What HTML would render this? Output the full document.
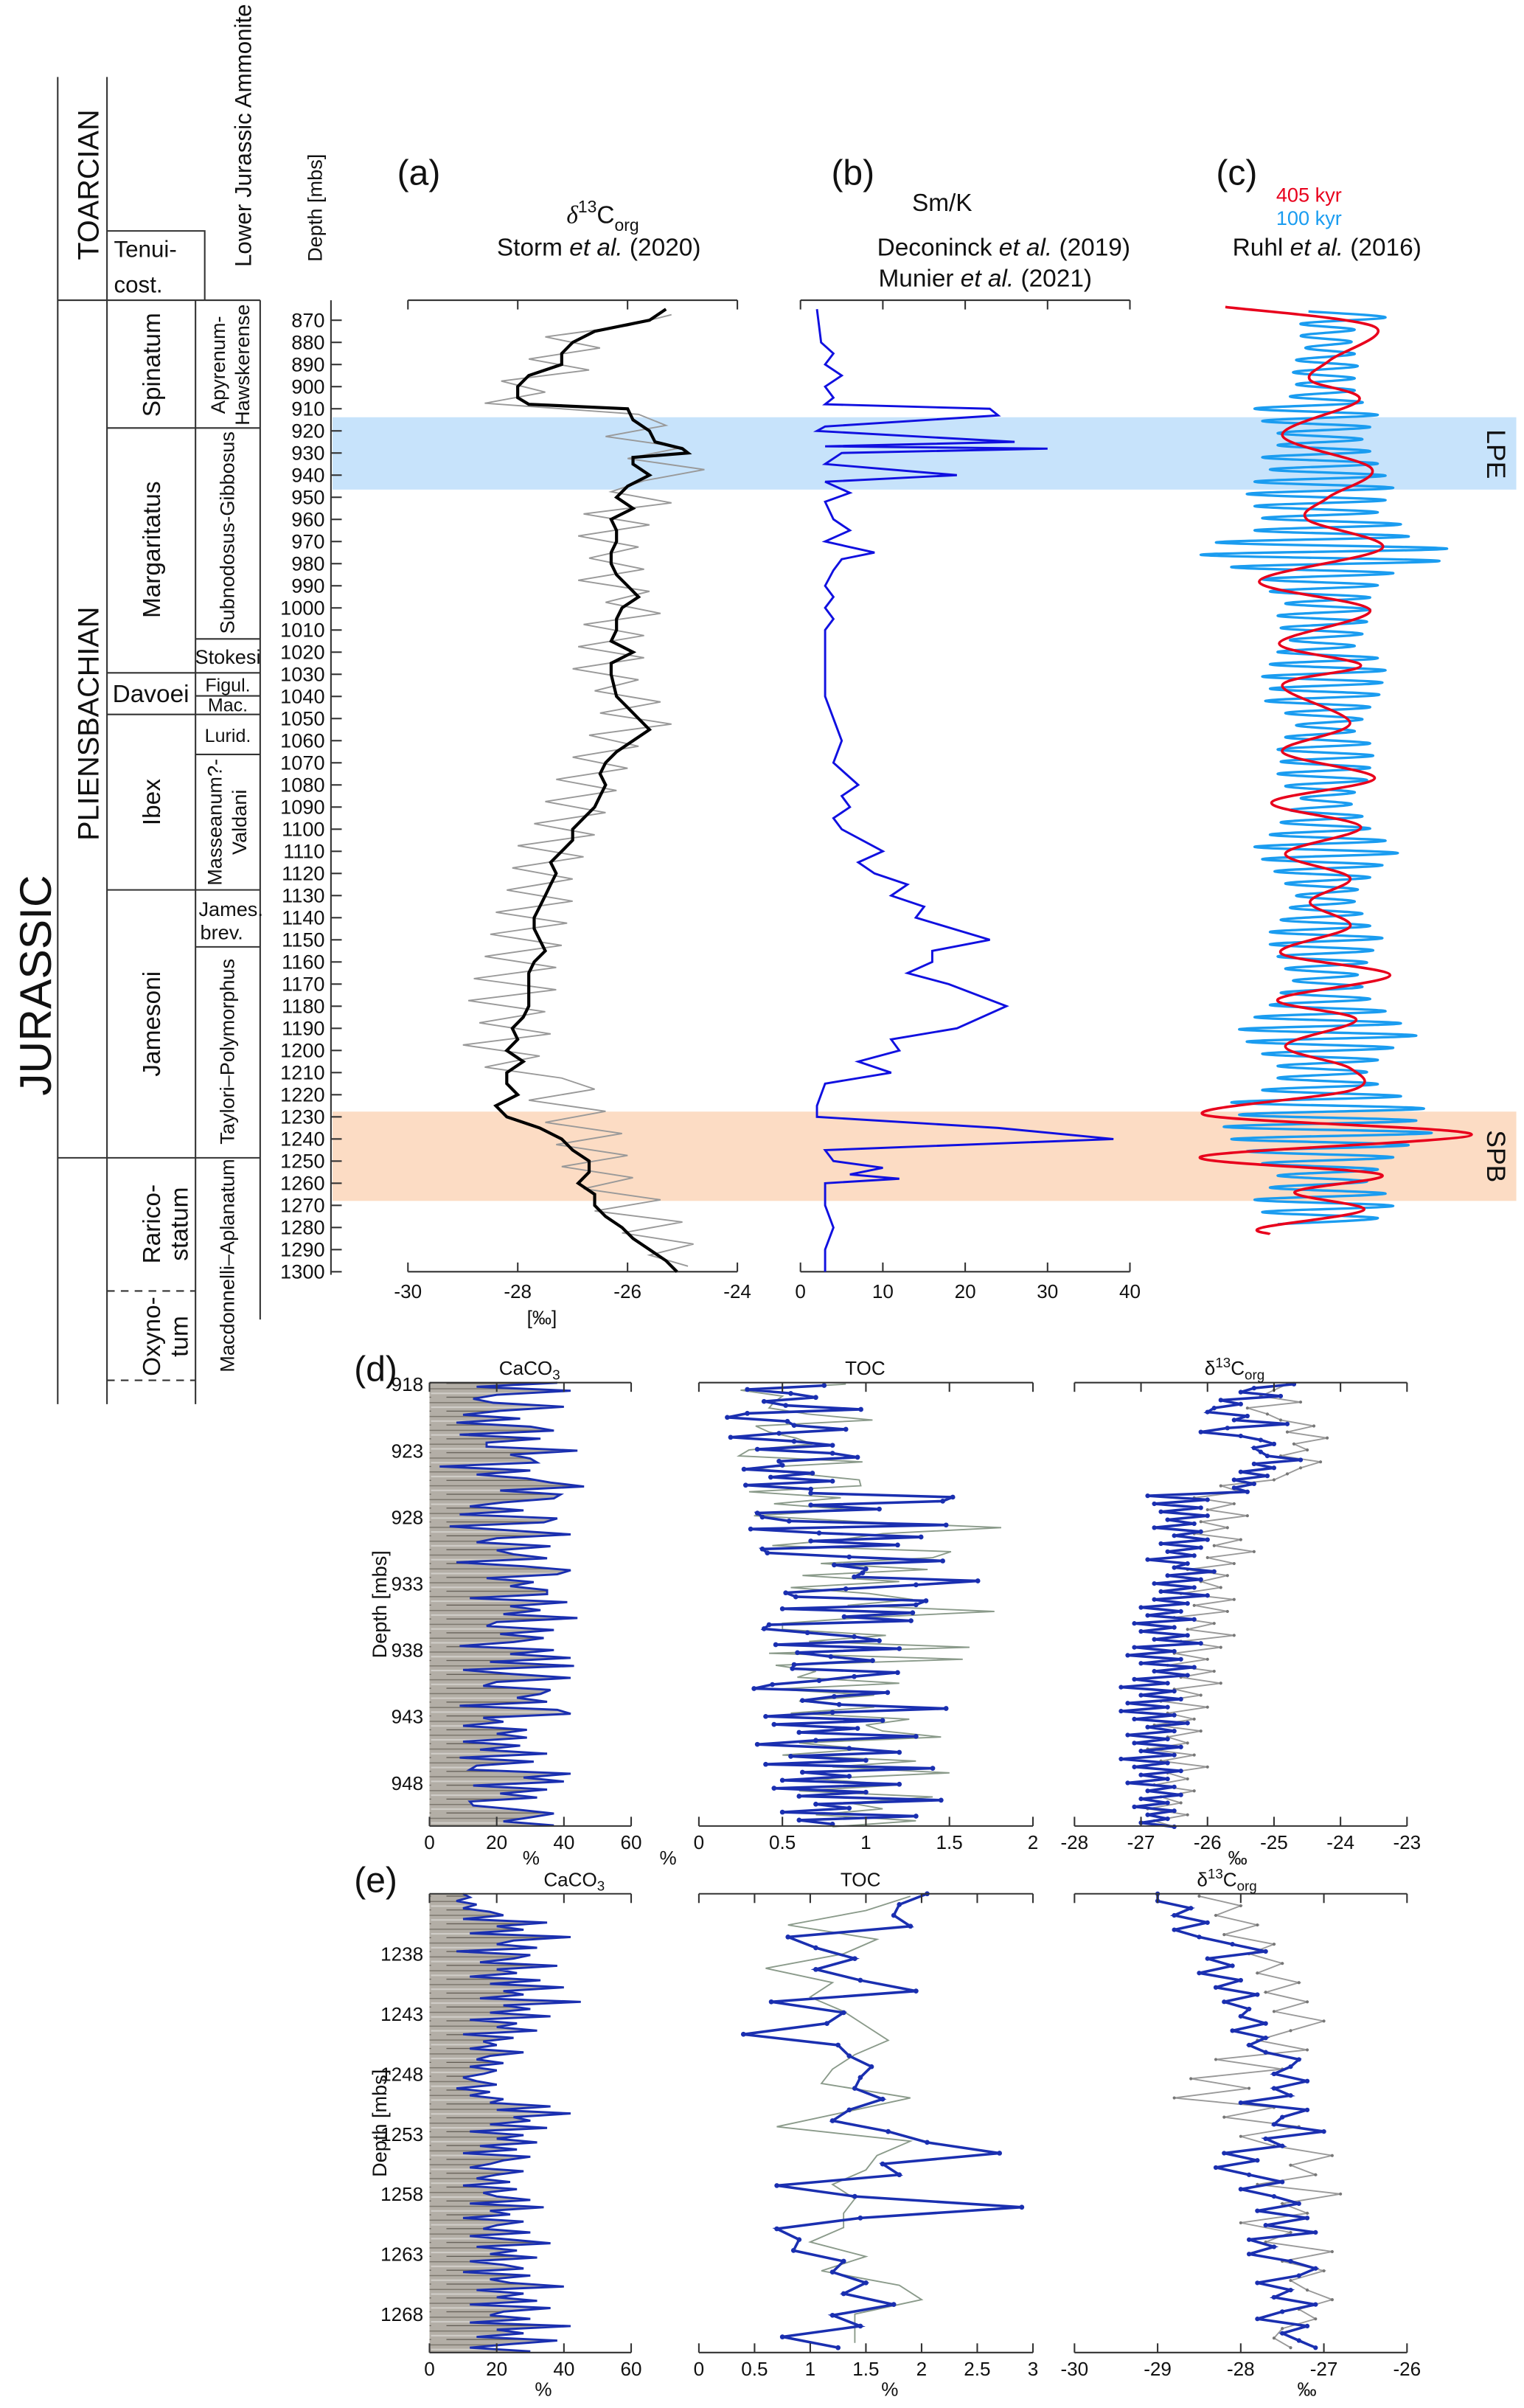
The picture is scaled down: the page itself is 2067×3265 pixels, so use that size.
<!DOCTYPE html>
<html><head><meta charset="utf-8">
<style>
html,body{margin:0;padding:0;background:#fff;}
svg{display:block;}
text{font-family:"Liberation Sans",Arial,sans-serif;fill:#111;}
</style></head>
<body>
<svg id="fig" width="2067" height="3265" viewBox="0 0 990 1564" preserveAspectRatio="none" xmlns="http://www.w3.org/2000/svg">
<defs>
<pattern id="core" width="140" height="9" patternUnits="userSpaceOnUse">
<rect width="140" height="9" fill="#b3aea6"/>
<line x1="0" y1="2" x2="140" y2="2" stroke="#7d786f" stroke-width="0.7"/>
<line x1="0" y1="5" x2="90" y2="5" stroke="#d0cdc8" stroke-width="1"/>
<line x1="10" y1="7.5" x2="140" y2="7.5" stroke="#5f5a52" stroke-width="0.6"/>
</pattern>
</defs>

<g id="strat" stroke="#333" stroke-width="1" fill="none">
<line x1="37.5" y1="50" x2="37.5" y2="912"/>
<line x1="69.5" y1="50" x2="69.5" y2="912"/>
<line x1="127" y1="195" x2="127" y2="912"/>
<line x1="169" y1="195" x2="169" y2="857"/>
<line x1="37.5" y1="195" x2="169" y2="195"/>
<polyline points="69.5,150 133,150 133,195"/>
<line x1="69.5" y1="278" x2="169" y2="278"/>
<line x1="69.5" y1="437" x2="169" y2="437"/>
<line x1="69.5" y1="464" x2="169" y2="464"/>
<line x1="69.5" y1="578" x2="169" y2="578"/>
<line x1="37.5" y1="752" x2="169" y2="752"/>
<line x1="127" y1="415" x2="169" y2="415"/>
<line x1="127" y1="452" x2="169" y2="452"/>
<line x1="127" y1="490" x2="169" y2="490"/>
<line x1="127" y1="615" x2="169" y2="615"/>
<line x1="69.5" y1="838.5" x2="127" y2="838.5" stroke-dasharray="5,4"/>
<line x1="69.5" y1="896.5" x2="127" y2="896.5" stroke-dasharray="5,4"/>
</g>
<g>
<text transform="translate(33,640) rotate(-90)" text-anchor="middle" font-size="29">JURASSIC</text>
<text transform="translate(64,120) rotate(-90)" text-anchor="middle" font-size="19">TOARCIAN</text>
<text transform="translate(64,470) rotate(-90)" text-anchor="middle" font-size="19">PLIENSBACHIAN</text>
<text x="74" y="167" font-size="15">Tenui-</text>
<text x="74" y="190" font-size="15">cost.</text>
<text transform="translate(163,88) rotate(-90)" text-anchor="middle" font-size="15">Lower Jurassic Ammonite</text>
<text transform="translate(104,237) rotate(-90)" text-anchor="middle" font-size="16">Spinatum</text>
<text transform="translate(104,357) rotate(-90)" text-anchor="middle" font-size="16">Margaritatus</text>
<text x="98" y="456" text-anchor="middle" font-size="16">Davoei</text>
<text transform="translate(104,521) rotate(-90)" text-anchor="middle" font-size="16">Ibex</text>
<text transform="translate(104,665) rotate(-90)" text-anchor="middle" font-size="16">Jamesoni</text>
<text transform="translate(104,795) rotate(-90)" text-anchor="middle" font-size="16">Rarico-</text>
<text transform="translate(122,795) rotate(-90)" text-anchor="middle" font-size="16">statum</text>
<text transform="translate(104,868) rotate(-90)" text-anchor="middle" font-size="16">Oxyno-</text>
<text transform="translate(122,868) rotate(-90)" text-anchor="middle" font-size="16">tum</text>
<text transform="translate(146,237) rotate(-90)" text-anchor="middle" font-size="13">Apyrenum-</text>
<text transform="translate(162,237) rotate(-90)" text-anchor="middle" font-size="13">Hawskerense</text>
<text transform="translate(152,346) rotate(-90)" text-anchor="middle" font-size="13">Subnodosus-Gibbosus</text>
<text x="148" y="431" text-anchor="middle" font-size="13">Stokesi</text>
<text x="148" y="449" text-anchor="middle" font-size="12">Figul.</text>
<text x="148" y="462" text-anchor="middle" font-size="12">Mac.</text>
<text x="148" y="482" text-anchor="middle" font-size="12">Lurid.</text>
<text transform="translate(144,534) rotate(-90)" text-anchor="middle" font-size="13">Masseanum?-</text>
<text transform="translate(160,534) rotate(-90)" text-anchor="middle" font-size="13">Valdani</text>
<text x="150" y="595" text-anchor="middle" font-size="13">James.</text>
<text x="144" y="610" text-anchor="middle" font-size="13">brev.</text>
<text transform="translate(152,683) rotate(-90)" text-anchor="middle" font-size="13">Taylori–Polymorphus</text>
<text transform="translate(152,822) rotate(-90)" text-anchor="middle" font-size="13">Macdonnelli–Aplanatum</text>
</g>

<rect x="216" y="271" width="769" height="47" fill="#c7e3fb"/>
<rect x="216" y="722" width="769" height="58" fill="#fcdcc4"/>
<text transform="translate(966,295) rotate(90)" text-anchor="middle" font-size="17">LPE</text>
<text transform="translate(966,751) rotate(90)" text-anchor="middle" font-size="17">SPB</text>

<text transform="translate(209,135) rotate(-90)" text-anchor="middle" font-size="13">Depth [mbs]</text>
<text x="258" y="120" font-size="23">(a)</text>
<text x="368" y="145" font-size="16"><tspan font-style="italic" font-family="Liberation Serif">δ</tspan><tspan dy="-7" font-size="11">13</tspan><tspan dy="7">C</tspan><tspan dy="5" font-size="11">org</tspan></text>
<text x="389" y="166" text-anchor="middle" font-size="16">Storm <tspan font-style="italic">et al.</tspan> (2020)</text>
<text x="540" y="120" font-size="23">(b)</text>
<text x="612" y="137" text-anchor="middle" font-size="16">Sm/K</text>
<text x="652" y="166" text-anchor="middle" font-size="16">Deconinck <tspan font-style="italic">et al.</tspan> (2019)</text>
<text x="640" y="186" text-anchor="middle" font-size="16">Munier <tspan font-style="italic">et al.</tspan> (2021)</text>
<text x="790" y="120" font-size="23">(c)</text>
<text x="829" y="131" font-size="13" style="fill:#e8001c">405 kyr</text>
<text x="829" y="146" font-size="13" style="fill:#1a9cf0">100 kyr</text>
<text x="862" y="166" text-anchor="middle" font-size="16">Ruhl <tspan font-style="italic">et al.</tspan> (2016)</text>

<g id="gtop"></g>
<g id="gbot"></g>
</svg>

<script>
const aSmoothDepth = [865,870,875,880,885,890,895,900,905,908,910,915,920,925,928,930,932,935,940,945,950,955,960,965,970,975,980,985,990,995,1000,1005,1010,1015,1020,1025,1030,1040,1045,1050,1055,1060,1065,1070,1075,1080,1085,1090,1095,1100,1105,1110,1115,1120,1125,1130,1135,1140,1145,1150,1155,1160,1165,1170,1175,1180,1185,1190,1195,1200,1205,1210,1215,1220,1225,1230,1235,1240,1245,1250,1255,1260,1265,1270,1275,1280,1285,1290,1295,1300];
const aSmoothVal = [-25.3,-25.6,-26.6,-27.0,-27.2,-27.2,-27.8,-28.0,-28.0,-27.8,-26.0,-25.9,-25.6,-25.5,-25.0,-24.9,-25.9,-25.9,-25.6,-26.0,-26.2,-25.9,-26.3,-26.2,-26.2,-26.3,-26.3,-26.2,-26.0,-25.8,-26.1,-26.2,-26.2,-26.3,-25.9,-26.3,-26.3,-26.2,-26.0,-25.8,-25.6,-25.9,-26.2,-26.4,-26.5,-26.4,-26.5,-26.6,-26.8,-27.0,-27.0,-27.2,-27.4,-27.3,-27.4,-27.5,-27.6,-27.7,-27.7,-27.6,-27.5,-27.7,-27.8,-27.8,-27.8,-27.8,-27.9,-28.1,-28.0,-28.2,-27.9,-28.2,-28.2,-28.0,-28.4,-28.2,-27.6,-27.2,-27.0,-26.7,-26.7,-26.9,-26.6,-26.6,-26.4,-26.1,-25.9,-25.6,-25.3,-25.1];
const aRawStart = 867.5, aRawStep = 5;
const aRawVal = [-25.2,-26.0,-27.5,-26.5,-27.8,-26.7,-28.3,-27.5,-28.6,-25.8,-25.3,-26.4,-25.0,-26.0,-24.6,-25.7,-26.3,-25.2,-26.8,-25.6,-26.9,-25.8,-26.7,-25.7,-26.9,-25.6,-26.4,-25.4,-26.8,-25.7,-26.9,-25.7,-27.0,-25.8,-26.6,-25.4,-26.5,-25.2,-26.7,-25.8,-27.0,-26.0,-27.3,-26.2,-27.5,-26.4,-27.7,-26.6,-28.0,-26.8,-28.1,-27.0,-28.2,-27.0,-28.4,-27.1,-28.5,-27.2,-28.6,-27.3,-28.8,-27.3,-28.9,-27.5,-28.7,-27.4,-29.0,-27.6,-28.6,-27.2,-26.6,-27.8,-26.4,-27.5,-26.1,-27.3,-26.0,-27.2,-25.9,-26.8,-25.4,-26.6,-25.0,-26.1,-24.8,-25.6,-24.9];
const aTicks = [-30,-28,-26,-24];
const bDepth = [865,880,885,890,895,900,905,908,910,913,918,920,925,927,928,930,935,940,943,948,952,960,965,970,975,978,983,990,995,1000,1005,1010,1020,1040,1050,1060,1070,1080,1085,1090,1095,1100,1110,1115,1120,1125,1130,1135,1140,1150,1155,1160,1165,1170,1180,1190,1195,1200,1205,1210,1215,1225,1230,1235,1240,1245,1250,1253,1256,1258,1260,1265,1270,1280,1290,1300];
const bVal = [2,2.5,4,3,5,3,4,3,23,24,3,2,26,3,30,5,3,19,3,6,3,4,6,3,9,5,4,3,4,3,4,3,3,3,4,5,4,7,5,6,4,5,10,7,9,13,11,15,14,23,16,16,13,18,25,19,11,12,7,11,3,2,2,24,38,3,4,10,6,12,3,3,3,4,3,3];
const bTicks = [0,10,20,30,40];
const redDepth = [864,873,888,897,906,922,937,950,960,973,988,1001,1016,1026,1035,1052,1065,1077,1088,1099,1111,1122,1133,1144,1156,1166,1177,1186,1198,1208,1218,1229,1238,1248,1256,1264,1272,1280,1283];
const redVal = [-64,33,4,-9,23,-27,31,3,-11,38,-42,30,-29,24,-27,17,-27,33,-34,24,-25,17,-9,17,-28,43,-30,21,-25,17,18,-78,96,-80,37,-19,26,-40,-35];
const blueStart = 866, blueStep = 2.75;
const blueVal = [-10,40,-15,20,-15,18,-12,20,-18,22,-20,20,-18,20,-22,25,
 -45,35,-40,30,-30,25,-30,30,-40,35,-35,40,-45,
 45,-50,40,-45,35,-40,50,-45,55,-70,80,-80,75,-60,45,-40,35,-35,30,
 -25,30,-30,28,-28,25,-22,20,-30,35,-35,40,-40,38,-35,36,-38,30,-25,25,-18,20,-25,30,-30,32,-28,30,-30,28,-25,20,-15,18,-22,25,
 -28,30,-35,40,-45,48,-40,38,-32,30,-25,22,-18,20,-22,25,-28,30,-35,38,-35,32,-30,28,-25,22,-20,25,-28,30,-35,40,-45,50,-55,60,
 -50,45,-40,35,-30,28,-30,35,-40,50,-60,65,-55,60,-65,70,-60,55,-50,45,-40,35,-30,28,-35,40,-45,45,-40,35,-30];

const dCaStart = 917.9, dCaStep = 0.3;
const dCaCO3 = [38,14,42,20,13,19,40,21,10,27,8,30,37,9,33,17,17,44,24,30,32,3,30,14,29,36,46,21,39,37,22,12,28,9,38,34,6,24,42,20,14,36,20,25,35,8,28,42,38,17,31,24,35,35,12,41,24,33,22,44,20,17,37,21,34,25,9,37,24,42,18,43,10,24,42,20,16,36,33,26,35,9,38,42,16,22,10,29,20,29,10,27,15,35,9,31,14,12,42,28,40,13,35,21,32,12,13,26,37,30,22,37];
const dTocStart = 918.1, dTocStep = 0.3;
const dTocBlue = [0.75,0.29,0.55,0.70,0.39,0.52,0.97,0.29,0.17,0.53,0.57,0.88,0.48,0.19,0.57,0.80,0.35,0.80,0.95,0.48,0.50,0.27,0.68,0.43,0.80,0.28,0.67,0.67,1.52,1.46,0.67,1.08,0.35,0.38,0.54,1.48,0.31,0.72,1.33,0.67,1.19,0.38,0.41,0.90,1.46,0.81,1.00,0.98,0.93,1.67,1.30,0.88,0.52,0.58,1.36,1.30,0.50,1.28,0.87,1.27,0.42,0.39,0.65,0.93,1.08,0.46,1.20,0.59,0.79,1.04,0.57,0.56,1.19,0.93,0.72,0.44,0.33,1.13,0.81,0.62,0.84,1.48,0.80,0.40,1.10,0.45,0.95,0.60,1.30,0.70,0.35,0.90,1.20,0.55,1.00,0.40,1.40,0.62,0.9,0.5,1.2,0.45,1.0,0.6,1.45,0.7,0.9,0.5,1.3,0.6,0.8,1.1];
const dTocGreyStart = 918, dTocGreyStep = 0.45;
const dTocGrey = [0.88,0.25,0.50,0.45,0.42,0.65,1.04,0.34,0.42,0.58,0.68,0.30,0.24,0.98,0.32,0.61,0.96,0.97,0.30,0.85,0.45,0.92,0.33,0.97,1.81,1.10,0.85,0.44,1.51,1.40,0.73,1.37,0.62,1.20,0.55,1.02,1.28,0.89,1.77,1.00,0.50,0.50,1.12,0.66,1.62,0.42,1.58,0.46,0.70,0.59,1.20,0.45,1.05,0.60,1.05,0.55,1.26,1.00,1.10,1.45,0.60,1.00,0.50,1.30,0.80,1.50,0.70,1.20,0.60,1.40,0.90,1.10,0.70,1.30,0.80];
const dIsoStart = 918, dIsoStep = 0.3;
const dIsoBlue = [-24.7,-25.3,-25.5,-24.9,-25.8,-25.5,-25.9,-26.0,-25.4,-25.6,-24.8,-25.7,-26.1,-25.5,-25.2,-25.0,-25.3,-25.2,-25.1,-24.6,-25.3,-25.0,-25.5,-25.1,-25.6,-25.3,-25.6,-25.4,-26.9,-26.0,-26.8,-26.1,-26.7,-26.0,-26.6,-26.2,-26.8,-26.1,-26.5,-26.0,-26.7,-26.1,-26.6,-26.2,-26.9,-26.3,-26.5,-25.9,-26.6,-26.1,-26.8,-26.2,-26.7,-26.0,-26.8,-26.3,-27.0,-26.4,-26.9,-26.2,-27.1,-26.5,-27.0,-26.3,-26.8,-26.1,-27.1,-26.5,-27.2,-26.4,-27.0,-26.2,-26.8,-26.3,-27.1,-26.6,-27.3,-26.5,-27.0,-26.4,-27.2,-26.6,-27.3,-26.5,-27.1,-26.3,-26.9,-26.5,-27.2,-26.6,-27.1,-26.4,-27.0,-26.5,-27.3,-26.6,-27.1,-26.4,-27.0,-26.6,-27.2,-26.5,-26.9,-26.4,-27.0,-26.6,-27.1,-26.5,-26.9,-26.6,-27.0,-26.5];
const dIsoGreyStart = 918, dIsoGreyStep = 0.45;
const dIsoGrey = [-24.8,-25.0,-25.2,-24.6,-25.4,-25.1,-24.9,-24.4,-24.8,-24.2,-24.7,-24.5,-24.9,-24.3,-24.6,-24.8,-25.0,-25.8,-25.5,-26.2,-25.6,-26.0,-25.4,-26.1,-25.7,-26.2,-25.5,-25.9,-25.3,-26.0,-25.6,-26.3,-25.7,-26.1,-25.8,-26.4,-25.6,-26.2,-25.7,-26.5,-25.9,-26.3,-25.6,-26.4,-25.8,-26.5,-26.0,-26.6,-25.9,-26.4,-25.8,-26.5,-26.1,-26.7,-26.0,-26.6,-26.2,-26.8,-26.1,-26.6,-26.3,-26.9,-26.2,-26.7,-26.0,-26.6,-26.3,-26.8,-26.2,-26.7,-26.4,-26.9,-26.3,-26.8,-26.5];
const dDepthTicks = [918,923,928,933,938,943,948];
const dCaTicks = [0,20,40,60];
const dTocTicks = [0,0.5,1,1.5,2];
const dIsoTicks = [-28,-27,-26,-25,-24,-23];

const eCaStart = 1233, eCaStep = 0.3;
const eCaCO3 = [10,12,8,14,10,18,22,10,35,20,28,12,42,25,20,32,8,30,25,15,38,20,26,12,33,18,40,22,28,15,45,22,30,18,36,12,26,20,32,10,25,16,20,12,28,18,14,22,12,20,16,10,14,20,8,18,12,22,18,36,20,42,25,30,18,35,12,28,20,32,15,26,10,30,22,18,12,28,20,14,24,10,26,16,20,30,12,34,18,24,10,28,20,16,30,12,24,36,14,26,18,32,12,22,28,10,30,18,24,40,14,28,20,32,12,36,22,18,30,12,42,20,28,14,38,24,12,30,22,16,26,22];
const eTocStart = 1233, eTocStep = 0.9;
const eTocBlue = [2.05,1.80,1.75,1.90,0.80,1.05,1.40,1.05,1.45,1.95,0.65,1.30,1.15,0.40,1.25,1.35,1.55,1.45,1.40,1.65,1.35,1.20,1.70,2.05,2.70,1.65,1.80,0.70,1.40,2.90,1.45,0.70,0.90,0.85,1.30,1.20,1.50,1.30,1.75,1.20,1.45,0.75,1.25];
const eTocGreyStart = 1233.2, eTocGreyStep = 1.2;
const eTocGrey = [1.9,1.5,0.8,1.6,1.3,0.6,1.2,1.0,1.3,1.5,1.7,1.4,1.2,1.1,1.9,1.3,0.7,1.9,1.6,1.5,1.2,1.4,1.3,1.3,1.0,1.5,1.1,1.8,2.0,1.4,1.4,1.4];
const eIsoStart = 1233, eIsoStep = 0.6;
const eIsoBlue = [-29.0,-29.0,-28.6,-28.8,-28.4,-28.8,-28.5,-28.1,-27.7,-28.4,-28.1,-28.5,-28.0,-28.3,-27.8,-28.2,-27.9,-28.0,-27.7,-28.1,-27.7,-27.9,-27.7,-27.3,-27.4,-27.6,-27.2,-27.6,-27.4,-28.0,-27.2,-27.5,-27.6,-27.0,-27.7,-27.5,-28.2,-27.8,-28.3,-27.9,-27.5,-28.0,-27.6,-27.3,-27.8,-27.2,-27.7,-27.1,-27.9,-27.6,-27.9,-27.4,-27.1,-27.3,-27.8,-27.4,-27.6,-27.1,-27.5,-27.8,-27.2,-27.5,-27.3,-27.1];
const eIsoGreyStart = 1233.2, eIsoGreyStep = 0.8;
const eIsoGrey = [-28.5,-28.0,-28.3,-27.8,-28.2,-27.6,-27.9,-27.5,-27.8,-27.3,-27.7,-27.2,-27.6,-27.0,-27.4,-27.8,-27.2,-28.3,-27.5,-28.6,-27.9,-28.8,-27.6,-28.2,-27.3,-28.0,-27.6,-26.9,-27.4,-27.1,-27.8,-26.8,-27.5,-27.2,-28.0,-27.4,-27.7,-26.9,-27.5,-27.0,-27.4,-27.2,-26.9,-27.3,-27.1,-27.5,-27.6,-27.4];
const eDepthTicks = [1238,1243,1248,1253,1258,1263,1268];
const eCaTicks = [0,20,40,60];
const eTocTicks = [0,0.5,1,1.5,2,2.5,3];
const eIsoTicks = [-30,-29,-28,-27,-26];
const topDepthTicks = [870,880,890,900,910,920,930,940,950,960,970,980,990,1000,1010,1020,1030,1040,1050,1060,1070,1080,1090,1100,1110,1120,1130,1140,1150,1160,1170,1180,1190,1200,1210,1220,1230,1240,1250,1260,1270,1280,1290,1300];

const NS = "http://www.w3.org/2000/svg";
function mk(tag, attrs, parent){const e=document.createElementNS(NS,tag);for(const k in attrs)e.setAttribute(k,attrs[k]);parent.appendChild(e);return e;}
function lin(d0,d1,r0,r1){return v=>r0+(v-d0)*(r1-r0)/(d1-d0);}
function seq(start,step,vals){return vals.map((v,i)=>[start+step*i,v]);}

const gTop = document.getElementById('gtop');
const gBot = document.getElementById('gbot');

const yT = lin(870,1300,208,826);
let ax = mk('line',{x1:215,y1:195,x2:215,y2:828,stroke:'#333','stroke-width':1},gTop);


topDepthTicks.forEach(t=>{
  const l=mk('line',{x1:215,y1:yT(t),x2:222,y2:yT(t),stroke:'#333'},gTop);
  
  
  const tx=mk('text',{x:211,y:yT(t)+4.5,'text-anchor':'end','font-size':13},gTop);
  tx.textContent=t;
  
  
});

function hAxis(g,x0,x1,y,ticks,xs,dir,labels,name){
  const l=mk('line',{x1:x0,y1:y,x2:x1,y2:y,stroke:'#333'},g);
  
  
  ticks.forEach(t=>{
    const tk=mk('line',{x1:xs(t),y1:y,x2:xs(t),y2:y+dir*6,stroke:'#333'},g);
    
    
    if(labels){
      const tx=mk('text',{x:xs(t),y:y+labels,'text-anchor':'middle','font-size':12.5},g);
      tx.textContent=t;
      
      
    }
  });
}
function poly(g,pts,attrs,name){
  const p=mk('polyline',Object.assign({points:pts.map(p=>p[0].toFixed(1)+','+p[1].toFixed(1)).join(' '),fill:'none'},attrs),g);
  
  
  return p;
}

const xA = lin(-30,-24,265,479);
hAxis(gTop,265,479,195,aTicks,xA,1,0,'panel-a-top-axis');
hAxis(gTop,265,479,826,aTicks,xA,-1,17,'panel-a-bottom-axis');
let u=mk('text',{x:352,y:860,'text-anchor':'middle','font-size':12.5},gTop);u.textContent='[‰]';


poly(gTop,seq(aRawStart,aRawStep,aRawVal).filter(p=>p[0]<=1300).map(p=>[xA(p[1]),yT(p[0])]),{stroke:'#999','stroke-width':0.9},'panel-a-raw-line');
poly(gTop,aSmoothDepth.map((d,i)=>[xA(aSmoothVal[i]),yT(d)]),{stroke:'#000','stroke-width':2},'panel-a-smoothed-line');

const xB = lin(0,40,520,734);
hAxis(gTop,520,734,195,bTicks,xB,1,0,'panel-b-top-axis');
hAxis(gTop,520,734,826,bTicks,xB,-1,17,'panel-b-bottom-axis');
poly(gTop,bDepth.map((d,i)=>[xB(bVal[i]),yT(d)]),{stroke:'#1010e0','stroke-width':1.4},'panel-b-smk-line');

function smoothPath(pts){
  let d='M'+pts[0][0].toFixed(1)+','+pts[0][1].toFixed(1);
  for(let i=0;i<pts.length-1;i++){
    const p0=pts[Math.max(0,i-1)],p1=pts[i],p2=pts[i+1],p3=pts[Math.min(pts.length-1,i+2)];
    const c1=[p1[0]+(p2[0]-p0[0])/6,p1[1]+(p2[1]-p0[1])/6];
    const c2=[p2[0]-(p3[0]-p1[0])/6,p2[1]-(p3[1]-p1[1])/6];
    d+=` C${c1[0].toFixed(1)},${c1[1].toFixed(1)} ${c2[0].toFixed(1)},${c2[1].toFixed(1)} ${p2[0].toFixed(1)},${p2[1].toFixed(1)}`;
  }
  return d;
}
const xC = lin(0,1,860,861);
const blueP = mk('path',{d:smoothPath(seq(blueStart,blueStep,blueVal).filter(p=>p[0]<=1295).map(p=>[xC(p[1]),yT(p[0])])),fill:'none',stroke:'#1a9cf0','stroke-width':1.6},gTop);


const redP = mk('path',{d:smoothPath(redDepth.map((d,i)=>[xC(redVal[i]),yT(d)])),fill:'none',stroke:'#e8001c','stroke-width':1.7},gTop);



function panel(g,cfg){
  const yS = lin(cfg.dT0,cfg.dT1,cfg.yT0,cfg.yT1);
  const yTop=cfg.yTop,yBot=cfg.yBot;
  const lbl=mk('text',{x:230,y:yTop-1,'font-size':23},g);lbl.textContent=cfg.label;
  
  
  const dt=mk('text',{transform:`translate(251,${(yTop+yBot)/2}) rotate(-90)`,'text-anchor':'middle','font-size':13},g);dt.textContent='Depth [mbs]';
  
  
  cfg.dTicks.forEach(t=>{
    const tx=mk('text',{x:275,y:yS(t)+4.5,'text-anchor':'end','font-size':12.5},g);tx.textContent=t;
    
    
  });
  const clip=(pts)=>pts.filter(p=>p[1]>=yTop-1&&p[1]<=yBot+1);
  const xCa=lin(0,60,279,410);
  const ca=clip(seq(cfg.caStart,cfg.caStep,cfg.ca).map(p=>[xCa(p[1]),yS(p[0])]));
  const f=mk('polygon',{points:[[279,yTop],[xCa(cfg.ca[0]),yTop]].concat(ca,[[ca[ca.length-1][0],yBot],[279,yBot]]).map(p=>p.join(',')).join(' '),fill:'url(#core)'},g);
  
  
  poly(g,ca,{stroke:'#1a2fb0','stroke-width':1.4},'caco3-line');
  hAxis(g,279,410,yTop,cfg.caTicks,xCa,1,0,'caco3-top-axis');
  hAxis(g,279,410,yBot,cfg.caTicks,xCa,-1,15,'caco3-bottom-axis');
  const xT=lin(0,cfg.tocMax,454,671);
  const tg=clip(seq(cfg.tgStart,cfg.tgStep,cfg.tg).map(p=>[xT(p[1]),yS(p[0])]));
  poly(g,tg,{stroke:'#8a9a8a','stroke-width':0.9},'toc-grey-line');
  const tb=clip(seq(cfg.tbStart,cfg.tbStep,cfg.tb).map(p=>[xT(p[1]),yS(p[0])]));
  poly(g,tb,{stroke:'#1a2fb0','stroke-width':1.7},'toc-blue-line');
  tb.forEach(p=>{const c=mk('circle',{cx:p[0],cy:p[1],r:1.6,fill:'#1a2fb0'},g);
    
    });
  hAxis(g,454,671,yTop,cfg.tocTicks,xT,1,0,'toc-top-axis');
  hAxis(g,454,671,yBot,cfg.tocTicks,xT,-1,15,'toc-bottom-axis');
  const xI=lin(cfg.isoMin,cfg.isoMax,698,914);
  const ig=clip(seq(cfg.igStart,cfg.igStep,cfg.ig).map(p=>[xI(p[1]),yS(p[0])]));
  poly(g,ig,{stroke:'#999','stroke-width':0.9},'d13c-grey-line');
  ig.forEach(p=>{const c=mk('circle',{cx:p[0],cy:p[1],r:1,fill:'#777'},g);
    
    });
  const ib=clip(seq(cfg.ibStart,cfg.ibStep,cfg.ib).map(p=>[xI(p[1]),yS(p[0])]));
  poly(g,ib,{stroke:'#1a2fb0','stroke-width':1.7},'d13c-blue-line');
  ib.forEach(p=>{const c=mk('circle',{cx:p[0],cy:p[1],r:1.5,fill:'#1a2fb0'},g);
    
    });
  hAxis(g,698,914,yTop,cfg.isoTicks,xI,1,0,'d13c-top-axis');
  hAxis(g,698,914,yBot,cfg.isoTicks,xI,-1,15,'d13c-bottom-axis');
  const t1=mk('text',{x:cfg.titleX[0],y:cfg.titleY,'text-anchor':'middle','font-size':12.5},g);
  t1.innerHTML='CaCO<tspan dy="3" font-size="9">3</tspan>';
  
  
  const t2=mk('text',{x:cfg.titleX[1],y:cfg.titleY,'text-anchor':'middle','font-size':12.5},g);t2.textContent='TOC';
  
  
  const t3=mk('text',{x:cfg.titleX[2],y:cfg.titleY,'text-anchor':'middle','font-size':12.5},g);
  t3.innerHTML='δ<tspan dy="-5" font-size="9">13</tspan><tspan dy="5">C</tspan><tspan dy="3" font-size="9">org</tspan>';
  
  
  cfg.units.forEach(uu=>{const t=mk('text',{x:uu[0],y:yBot+cfg.unitDy,'text-anchor':'middle','font-size':12.5},g);t.textContent=uu[1];
    
    });
}
panel(gBot,{label:'(d)',yTop:898,yBot:1186,dT0:918,dT1:948,yT0:899,yT1:1158,dTicks:dDepthTicks,titleY:893,titleX:[344,562,802],
  caStart:dCaStart,caStep:dCaStep,ca:dCaCO3,caTicks:dCaTicks,
  tocMax:2,tbStart:dTocStart,tbStep:dTocStep,tb:dTocBlue,tgStart:dTocGreyStart,tgStep:dTocGreyStep,tg:dTocGrey,tocTicks:dTocTicks,
  isoMin:-28,isoMax:-23,ibStart:dIsoStart,ibStep:dIsoStep,ib:dIsoBlue,igStart:dIsoGreyStart,igStep:dIsoGreyStep,ig:dIsoGrey,isoTicks:dIsoTicks,
  units:[[345,'%'],[434,'%'],[804,'‰']],unitDy:25});
panel(gBot,{label:'(e)',yTop:1230,yBot:1528,dT0:1238,dT1:1268,yT0:1269,yT1:1503,dTicks:eDepthTicks,titleY:1225,titleX:[373,559,797],
  caStart:eCaStart,caStep:eCaStep,ca:eCaCO3,caTicks:eCaTicks,
  tocMax:3,tbStart:eTocStart,tbStep:eTocStep,tb:eTocBlue,tgStart:eTocGreyStart,tgStep:eTocGreyStep,tg:eTocGrey,tocTicks:eTocTicks,
  isoMin:-30,isoMax:-26,ibStart:eIsoStart,ibStep:eIsoStep,ib:eIsoBlue,igStart:eIsoGreyStart,igStep:eIsoGreyStep,ig:eIsoGrey,isoTicks:eIsoTicks,
  units:[[353,'%'],[578,'%'],[849,'‰']],unitDy:28});
</script>
</body></html>
